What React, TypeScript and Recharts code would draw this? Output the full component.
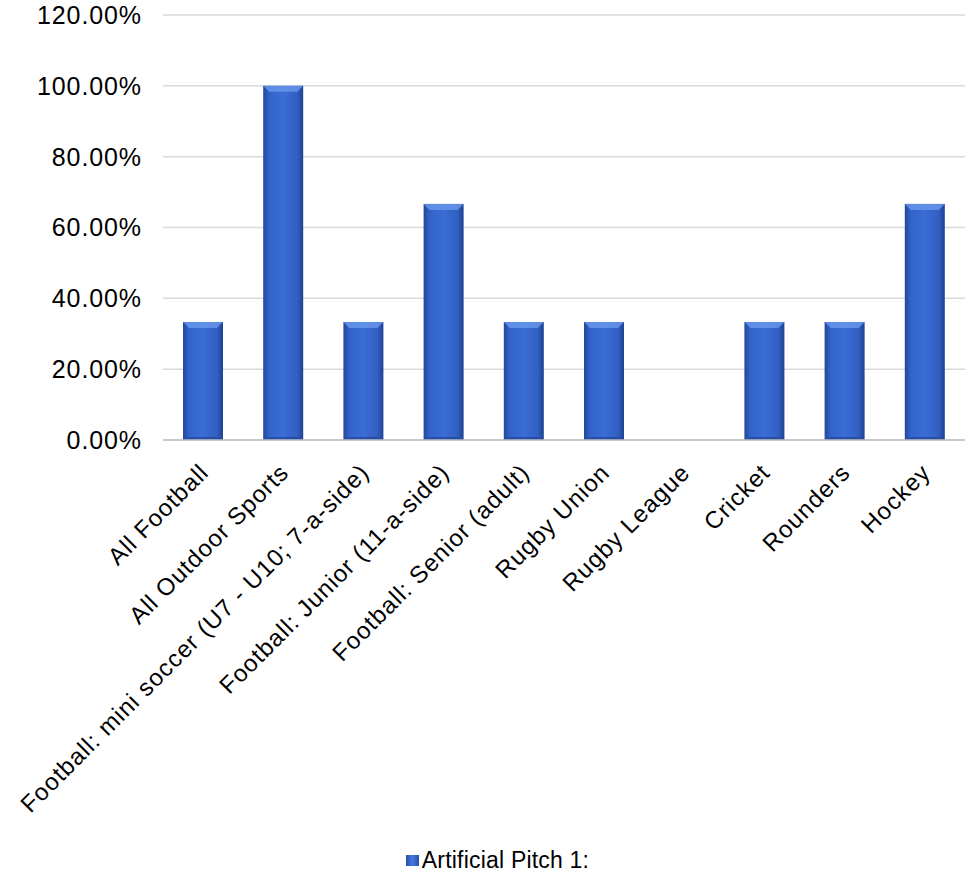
import React from 'react'
import { BarChart, Bar, XAxis, YAxis, CartesianGrid, Legend } from 'recharts'

const categories = [
  'All Football',
  'All Outdoor Sports',
  'Football: mini soccer (U7 - U10; 7-a-side)',
  'Football: Junior (11-a-side)',
  'Football: Senior (adult)',
  'Rugby Union',
  'Rugby League',
  'Cricket',
  'Rounders',
  'Hockey',
]

const pitchValues = [33.33, 100, 33.33, 66.67, 33.33, 33.33, 0, 33.33, 33.33, 66.67]

const yTicks = [0, 20, 40, 60, 80, 100, 120]

const seriesName = 'Artificial Pitch 1:'

const data = categories.map((name, i) => ({ name, value: pitchValues[i] }))

const FONT = '"Liberation Sans", Arial, sans-serif'

// rotated category label, anchored at its end like Excel does
function CategoryTick(props: any) {
  const { x, y, payload } = props
  const ax = x + 7
  const ay = y + 26
  return (
    <text
      x={ax}
      y={ay}
      transform={`rotate(-45, ${ax}, ${ay})`}
      textAnchor="end"
      fontSize={24}
      letterSpacing={1}
      fontFamily={FONT}
      fill="#000"
    >
      {payload.value}
    </text>
  )
}

// cylinder-ish bar with a lighter bevel on top
function BevelBar(props: any) {
  const { x, y, width, height } = props
  if (!height || height <= 0 || !width) return null
  const b = Math.min(6, width / 4)
  return (
    <g>
      <rect x={x} y={y} width={width} height={height} fill="url(#barGrad)" />
      <polygon
        points={`${x},${y} ${x + width},${y} ${x + width - b},${y + b} ${x + b},${y + b}`}
        fill="#6a98ee"
        opacity={0.8}
      />
      <polygon
        points={`${x},${y + height} ${x + width},${y + height} ${x + width - b},${y + height - 3} ${x + b},${y + height - 3}`}
        fill="#1f3f8c"
        opacity={0.6}
      />
    </g>
  )
}

function LegendBox() {
  return (
    <div
      style={{
        display: 'flex',
        justifyContent: 'center',
        alignItems: 'center',
        height: 30,
        paddingLeft: 30,
        fontFamily: FONT,
        fontSize: 23,
        letterSpacing: 0.2,
        color: '#000',
      }}
    >
      <span
        style={{
          display: 'inline-block',
          width: 13,
          height: 11,
          marginRight: 3,
          background: 'linear-gradient(to right, #2a52a8, #4478e0, #2a52a8)',
        }}
      />
      {seriesName}
    </div>
  )
}

export default function App() {
  return (
    <div style={{ position: 'absolute', left: 0, top: 0, background: '#fff' }}>
      <BarChart
        width={970}
        height={876}
        data={data}
        margin={{ top: 15, right: 5, left: 0, bottom: 1 }}
        barSize={40}
      >
        <defs>
          <linearGradient id="barGrad" x1="0" y1="0" x2="1" y2="0">
            <stop offset="0%" stopColor="#23479a" />
            <stop offset="15%" stopColor="#3363c8" />
            <stop offset="50%" stopColor="#3b6dd6" />
            <stop offset="85%" stopColor="#315fc2" />
            <stop offset="100%" stopColor="#1f4190" />
          </linearGradient>
        </defs>
        <CartesianGrid vertical={false} stroke="#d9d9d9" strokeWidth={1.5} />
        <XAxis
          dataKey="name"
          interval={0}
          height={405}
          tick={<CategoryTick />}
          tickLine={false}
          axisLine={{ stroke: '#bfbfbf', strokeWidth: 1.5 }}
        />
        <YAxis
          width={163}
          domain={[0, 120]}
          ticks={yTicks}
          tickFormatter={(v: number) => `${v.toFixed(2)}%`}
          tickLine={false}
          axisLine={false}
          tickSize={0}
          tickMargin={21}
          tick={{ fontSize: 25, fontFamily: FONT, fill: '#000', letterSpacing: 0.9 }}
        />
        <Legend verticalAlign="bottom" content={<LegendBox />} />
        <Bar
          dataKey="value"
          name={seriesName}
          shape={<BevelBar />}
          isAnimationActive={false}
        />
      </BarChart>
    </div>
  )
}
